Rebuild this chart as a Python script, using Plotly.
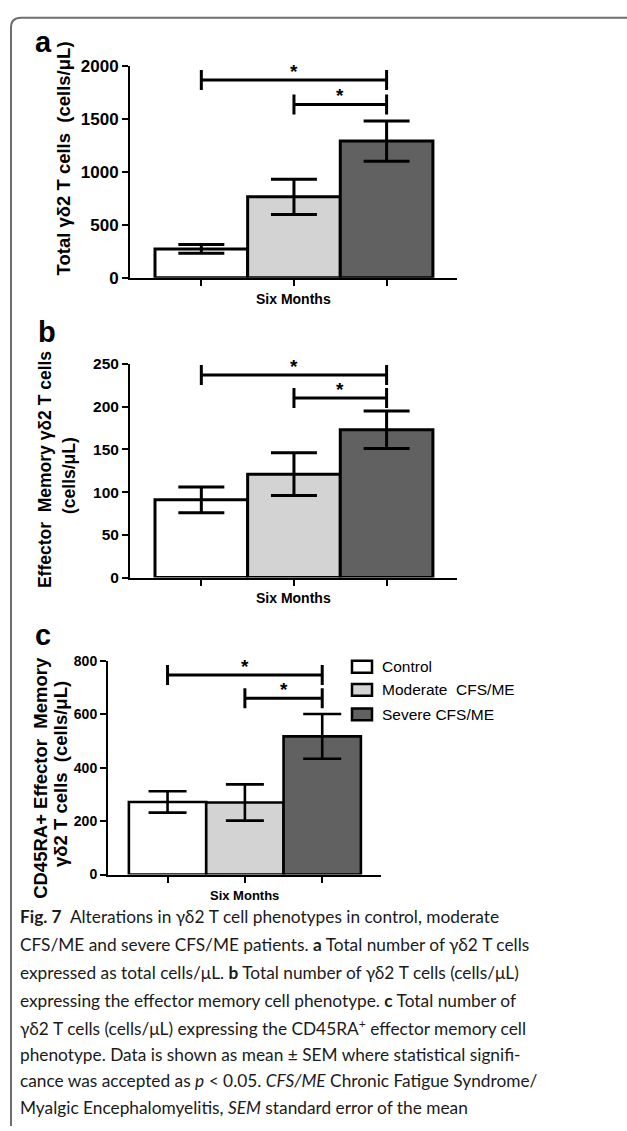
import plotly.graph_objects as go

# ---------------- data ----------------
groups = ["Control", "Moderate\u00a0\u00a0CFS/ME", "Severe CFS/ME"]
group_colors = ["#ffffff", "#d3d3d3", "#616161"]
period = "Six Months"

a_mean = [272, 764, 1291]
a_sem = [42, 166, 190]
b_mean = [91, 121, 173]
b_sem = [15, 25, 22]
c_mean = [272, 270, 518]
c_sem = [40, 68, 84]

a_ticks = [0, 500, 1000, 1500, 2000]
b_ticks = [0, 50, 100, 150, 200, 250]
c_ticks = [0, 200, 400, 600, 800]

# significance brackets: (from group, to group, level)
a_sig = [(0, 2, 1869), (1, 2, 1637)]
b_sig = [(0, 2, 237), (1, 2, 210)]
c_sig = [(0, 2, 748), (1, 2, 661)]

a_title = ["Total \u03b3\u03b42 T cells\u00a0\u00a0(cells/\u03bcL)"]
b_title = ["Effector\u00a0\u00a0Memory \u03b3\u03b42 T cells", "(cells/\u03bcL)"]
c_title = ["CD45RA+ Effector\u00a0\u00a0Memory", "\u03b3\u03b42 T cells\u00a0\u00a0(cells/\u03bcL)"]

caption_lines = [
    "<b>Fig. 7</b>\u00a0\u00a0Alterations in \u03b3\u03b42 T cell phenotypes in control, moderate",
    "CFS/ME and severe CFS/ME patients. <b>a</b> Total number of \u03b3\u03b42 T cells",
    "expressed as total cells/\u03bcL. <b>b</b> Total number of \u03b3\u03b42 T cells (cells/\u03bcL)",
    "expressing the effector memory cell phenotype. <b>c</b> Total number of",
    "\u03b3\u03b42 T cells (cells/\u03bcL) expressing the CD45RA<sup>+</sup> effector memory cell",
    "phenotype. Data is shown as mean \u00b1 SEM where statistical signifi-",
    "cance was accepted as <i>p</i> &lt; 0.05. <i>CFS/ME</i> Chronic Fatigue Syndrome/",
    "Myalgic Encephalomyelitis, <i>SEM</i> standard error of the mean",
]

# ---------------- layout helpers ----------------
W, H = 627, 1131
def px(x):
    return x / W
def py(y):
    return 1 - y / H

SANS = "Liberation Sans, Arial, sans-serif"
CAP = "Lato, Open Sans, sans-serif"

panels = [
    dict(letter="a", mean=a_mean, sem=a_sem, ticks=a_ticks, sig=a_sig, title=a_title,
         xd=(130, 457), yd=(58, 273.3), tick_size=17, title_size=18.5,
         title_x=[63], title_y=[152],
         letter_xy=(43.5, 34), six_y=295, cap=23, lw=3),
    dict(letter="b", mean=b_mean, sem=b_sem, ticks=b_ticks, sig=b_sig, title=b_title,
         xd=(130, 457), yd=(361, 578.3), tick_size=15.5, title_size=17.5,
         title_x=[45, 69], title_y=[469, 475],
         letter_xy=(46.5, 329), six_y=599, cap=23, lw=3),
    dict(letter="c", mean=c_mean, sem=c_sem, ticks=c_ticks, sig=c_sig, title=c_title,
         xd=(108, 381), yd=(663.3, 880.3), tick_size=14, title_size=18.5,
         title_x=[41, 61], title_y=[782, 778],
         letter_xy=(43, 637), six_y=902, cap=19, lw=2.6),
]

fig = go.Figure()
shapes = []
annotations = []

for i, p in enumerate(panels):
    n = "" if i == 0 else str(i + 1)
    xa, ya = "x" + n, "y" + n
    fig.add_trace(go.Bar(
        x=list(range(len(groups))), y=p["mean"], width=1,
        marker=dict(color=group_colors, line=dict(color="black", width=p["lw"])),
        error_y=dict(type="data", array=p["sem"], color="black", thickness=p["lw"], width=p["cap"]),
        xaxis=xa, yaxis=ya, showlegend=False, hoverinfo="skip",
    ))
    fig.layout["xaxis" + n] = dict(
        domain=[px(p["xd"][0]), px(p["xd"][1])], range=[-0.77, 2.76], anchor=ya,
        showline=True, linecolor="black", linewidth=2, ticks="outside", ticklen=6,
        tickwidth=2, tickcolor="black", tickvals=[0, 1, 2], showticklabels=False,
        showgrid=False, zeroline=False, fixedrange=True,
    )
    fig.layout["yaxis" + n] = dict(
        domain=[py(p["yd"][1]), py(p["yd"][0])], range=[0, p["ticks"][-1]], anchor=xa,
        showline=True, linecolor="black", linewidth=2, ticks="outside", ticklen=6,
        tickwidth=2, tickcolor="black", tickvals=p["ticks"],
        tickfont=dict(family=SANS, size=p["tick_size"], color="black", weight="bold"),
        showgrid=False, zeroline=False, fixedrange=True,
    )
    # significance brackets
    for g0, g1, lvl in p["sig"]:
        shapes.append(dict(type="line", xref=xa, yref=ya, x0=g0, x1=g1, y0=lvl, y1=lvl,
                           line=dict(color="black", width=3)))
        for g in (g0, g1):
            shapes.append(dict(type="line", xref=xa, yref=ya, x0=g, x1=g,
                               ysizemode="pixel", yanchor=lvl, y0=-10, y1=10,
                               line=dict(color="black", width=3)))
        annotations.append(dict(xref=xa, yref=ya, x=(g0 + g1) / 2, y=lvl, text="*",
                                showarrow=False, xanchor="center", yanchor="bottom", yshift=-4,
                                font=dict(family=SANS, size=19, color="black", weight="bold")))
    # axis title lines
    for t, tx, ty in zip(p["title"], p["title_x"], p["title_y"]):
        annotations.append(dict(xref="paper", yref="paper", x=px(tx), y=py(ty), text=t,
                                textangle=-90, showarrow=False, xanchor="center", yanchor="middle",
                                font=dict(family=SANS, size=p["title_size"], color="black", weight="bold")))
    # panel letter
    annotations.append(dict(xref="paper", yref="paper", x=px(p["letter_xy"][0]), y=py(p["letter_xy"][1]),
                            text=p["letter"], showarrow=False, xanchor="center", yanchor="middle",
                            font=dict(family=SANS, size=29, color="black", weight="bold")))
    # x label
    annotations.append(dict(xref="paper", yref="paper", x=px((p["xd"][0] + p["xd"][1]) / 2), y=py(p["six_y"]),
                            text=period, showarrow=False, xanchor="center", yanchor="middle",
                            font=dict(family=SANS, size=14 if i < 2 else 13, color="black", weight="bold")))

# legend (panel c)
leg_y = [669, 692.5, 717.5]
for g, (name, col) in enumerate(zip(groups, group_colors)):
    shapes.append(dict(type="rect", xref="paper", yref="paper",
                       x0=px(352), x1=px(372), y0=py(leg_y[g] + 6), y1=py(leg_y[g] - 6),
                       fillcolor=col, line=dict(color="black", width=2.5)))
    annotations.append(dict(xref="paper", yref="paper", x=px(380), y=py(leg_y[g]), text=name,
                            showarrow=False, xanchor="left", yanchor="middle",
                            font=dict(family=SANS, size=15.5, color="black")))

# caption
cap_y = [923, 951, 980, 1008, 1036, 1063, 1090, 1117]
for t, yy in zip(caption_lines, cap_y):
    annotations.append(dict(xref="paper", yref="paper", x=px(18), y=py(yy), text=t,
                            showarrow=False, xanchor="left", yanchor="middle",
                            font=dict(family=CAP, size=17.3, color="#1a1a1a")))

# outer frame (rounded top-left corner)
r = 10
x0, y0 = 11, 9
shapes.append(dict(type="path", xref="paper", yref="paper",
                   path=f"M {px(x0)},{py(H + 5)} L {px(x0)},{py(y0 + r)} Q {px(x0)},{py(y0)} {px(x0 + r)},{py(y0)} L {px(W + 5)},{py(y0)}",
                   line=dict(color="#6e6e6e", width=2)))

fig.update_layout(
    width=W, height=H, margin=dict(l=0, r=0, t=0, b=0),
    paper_bgcolor="white", plot_bgcolor="white",
    barmode="overlay", showlegend=False,
    shapes=shapes, annotations=annotations,
)

fig.write_html("out.html", config={"displayModeBar": False})
